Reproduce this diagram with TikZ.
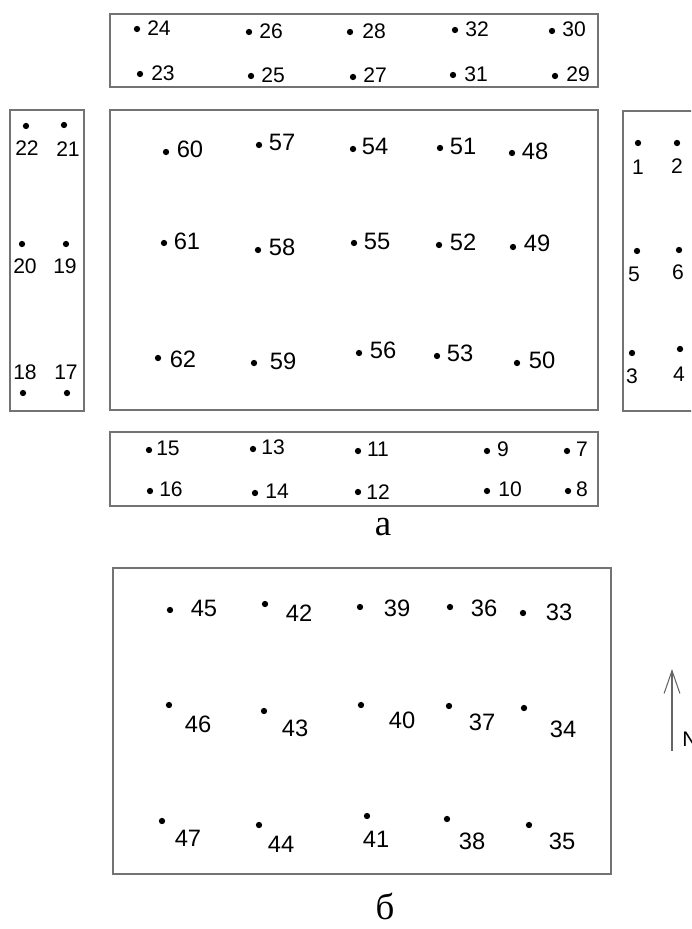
\documentclass[tikz,border=0pt]{standalone}
\usepackage{fontspec}
\setmainfont{Liberation Sans}
\newfontfamily\cyrserif{Liberation Serif}
\usetikzlibrary{arrows.meta}
\usetikzlibrary{positioning, math}

\tikzset{
dot/.style={circle, fill=black, inner sep=0pt, minimum size=3.6pt},
num/.style={inner sep=0pt, font=\fontsize{12}{14}\selectfont},
numbig/.style={inner sep=0pt, font=\fontsize{13.5}{15}\selectfont},
plot/.style={draw=black!55, line width=1pt},
caption/.style={inner sep=0pt, font=\cyrserif\fontsize{21}{24}\selectfont},
}

\begin{document}
\begin{tikzpicture}[x=0.02cm, y=-0.02cm]
\useasboundingbox (0,0) rectangle (691,929);
\clip (0,0) rectangle (691,929);
\tikzmath{
\xl=110;
\xr=598;
}

% plots (a)
\draw[plot] (\xl,14) rectangle (\xr,87);
\draw[plot] (\xl,110) rectangle (\xr,410);
\draw[plot] (\xl,432) rectangle (\xr,506);
\draw[plot] (10,110) rectangle (84,411);
\draw[plot] (623,111) rectangle (700,411);
% plot (b)
\draw[plot] (113,568) rectangle (611,874);

% top and bottom strips
\foreach \n/\x/\y/\lx/\ly in {24/137/29/159/28, 26/249/32/271/31, 28/350/32/374/31, 32/455/30/477/29, 30/552/31/574/29,
23/140/74/163/73, 25/251/76/273/75, 27/353/77/375/75, 31/453/75/476/74, 29/555/76/578/74,
15/149/450/168/448, 13/253/449/273/447, 11/358/451/378/449, 9/487/451/503/449, 7/567/451/582/449,
16/150/491/171/489, 14/255/493/277/491, 12/358/492/378/492, 10/487/491/510/489, 8/568/491/582/489}{
\node[dot] (p\n) at (\x,\y) {};
\node[num] (l\n) at (\lx,\ly) {\n};
}

% side strips
\foreach \n/\x/\y/\lx/\ly in {22/26/126/27/148, 21/64/125/68/149, 20/22/244/25/266, 19/66/244/65/266, 18/23/393/25/372, 17/67/393/66/372,
1/638/143/638/167, 2/677/143/677/166, 5/637/251/634/274, 6/679/250/678/272, 3/632/353/632/376, 4/680/349/679/374}{
\node[dot] (p\n) at (\x,\y) {};
\node[num] (l\n) at (\lx,\ly) {\n};
}

% main plot and plot (b)
\foreach \n/\x/\y/\lx/\ly in {60/166/152/190/149, 57/259/145/282/142, 54/353/149/375/146, 51/440/148/463/146, 48/512/153/535/151,
61/164/243/187/241, 58/258/250/282/247, 55/354/243/377/241, 52/439/245/463/242, 49/513/247/537/243,
62/158/358/183/359, 59/254/363/283/361, 56/359/353/383/350, 53/437/356/460/353, 50/517/363/542/360,
45/170/610/204/608, 42/265/604/299/613, 39/360/607/397/608, 36/450/607/484/608, 33/523/613/559/612,
46/169/705/198/724, 43/264/711/295/728, 40/361/705/402/720, 37/449/706/482/722, 34/524/708/563/729,
47/162/821/188/838, 44/259/825/281/844, 41/367/816/376/839, 38/447/819/472/841, 35/529/825/562/841}{
\node[dot] (p\n) at (\x,\y) {};
\node[numbig] (l\n) at (\lx,\ly) {\n};
}

\node[caption] (capa) at (383,527) {а};
\node[caption] (capb) at (385,906) {б};

% north
\coordinate (nb) at (672,751);
\coordinate (nt) at (672,669);
\draw[black!60, line width=0.6pt, -{Straight Barb[length=13pt,width=9pt]}] (nb) -- (nt);
\node[num, anchor=west] (nlab) at (682,739) {N};

\end{tikzpicture}
\end{document}
